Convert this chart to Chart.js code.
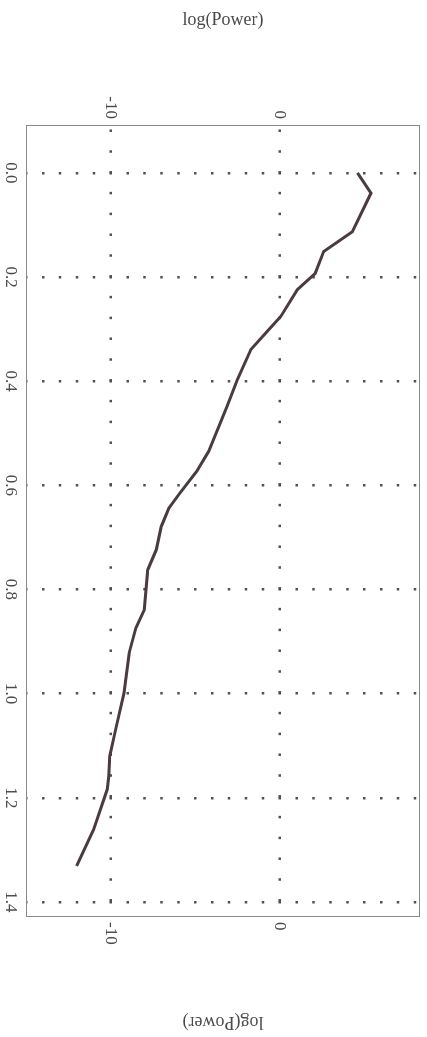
<!DOCTYPE html>
<html>
<head>
<meta charset="utf-8">
<script src="https://cdn.jsdelivr.net/npm/chart.js@4"></script>
<style>
  html, body { margin: 0; padding: 0; background: #fff; overflow: hidden; }
  /* the original figure is printed sideways: draw it upright, then turn it */
  #wrap {
    position: absolute; left: 0; top: 0;
    width: 1037px; height: 427px;
    transform-origin: 0 0;
    transform: translate(427px, 0) rotate(90deg);
  }
</style>
</head>
<body>
<div id="wrap"><canvas id="spectrum" width="1037" height="427"></canvas></div>
<script>
// frequency along the (turned) horizontal axis
const freq = [0.0, 0.039, 0.113, 0.151, 0.193, 0.224, 0.276, 0.304, 0.339, 0.397,
  0.448, 0.535, 0.573, 0.615, 0.644, 0.679, 0.724, 0.762, 0.839, 0.874,
  0.922, 0.973, 0.999, 1.069, 1.120, 1.159, 1.184, 1.261, 1.331]
const logPower = [4.6, 5.4, 4.3, 2.6, 2.1, 1.05, 0.06, -0.73, -1.7, -2.5,
  -3.1, -4.2, -4.9, -5.9, -6.55, -7.0, -7.3, -7.8, -8.0, -8.5,
  -8.9, -9.1, -9.2, -9.7, -10.05, -10.1, -10.2, -11.0, -12.0]
const freqTicks = [0.0, 0.2, 0.4, 0.6, 0.8, 1.0, 1.2, 1.4]
const powerTicks = [-10, 0]

const serif = 'Liberation Serif'
const inkColor = '#4a4a4a'

// thin box around the plot area
const frame = {
  id: 'frame',
  afterDraw (chart) {
    const { ctx, chartArea: a } = chart
    ctx.save()
    ctx.strokeStyle = '#8a8a8a'
    ctx.lineWidth = 1
    ctx.strokeRect(a.left + 0.5, a.top + 0.5, a.right - a.left - 1, a.bottom - a.top - 1)
    ctx.restore()
  }
}

const powerAxis = (pos, width, titlePad, tickPad, showGrid) => ({
  type: 'linear',
  position: pos,
  min: -15,
  max: 8.3,
  afterBuildTicks: s => { s.ticks = powerTicks.map(v => ({ value: v })) },
  afterFit: s => {
    s.width = width
    s.paddingTop = 0
    s.paddingBottom = 0
  },
  border: { display: false, dash: [2.5, 18.3], dashOffset: 16.35 },
  grid: {
    display: showGrid,
    drawTicks: false,
    color: '#505050',
    lineWidth: 2.5
  },
  ticks: {
    padding: tickPad,
    color: inkColor,
    font: { family: serif, size: 17 },
    callback: v => String(v)
  },
  title: {
    display: true,
    text: 'log(Power)',
    color: inkColor,
    padding: { top: titlePad, bottom: 0 },
    font: { family: serif, size: 18 }
  }
})

// eslint-disable-next-line no-unused-vars
const spectrumChart = new Chart(document.getElementById('spectrum'), {
  type: 'scatter',
  data: {
    datasets: [{
      data: freq.map((f, i) => ({ x: f, y: logPower[i] })),
      showLine: true,
      borderColor: '#4a3b3e',
      borderWidth: 3,
      pointRadius: 0,
      tension: 0
    }]
  },
  options: {
    responsive: false,
    animation: false,
    layout: { padding: { top: 7, left: 0, right: 0, bottom: 0 } },
    plugins: { legend: { display: false }, tooltip: { enabled: false } },
    scales: {
      x: {
        type: 'linear',
        position: 'bottom',
        min: -0.092,
        max: 1.429,
        afterBuildTicks: s => { s.ticks = freqTicks.map(v => ({ value: v })) },
        afterFit: s => { s.height = 26 },
        border: { display: false, dash: [2.5, 14.4], dashOffset: 13.15 },
        grid: {
          drawTicks: false,
          color: '#505050',
          lineWidth: 2.5
        },
        ticks: {
          padding: 5,
          maxRotation: 0,
          color: inkColor,
          font: { family: serif, size: 17 },
          callback: v => v.toFixed(1)
        }
      },
      y: powerAxis('left', 125, 9, 6, true),
      y2: powerAxis('right', 120, 4, 5, false)
    }
  },
  plugins: [frame]
})
</script>
</body>
</html>
